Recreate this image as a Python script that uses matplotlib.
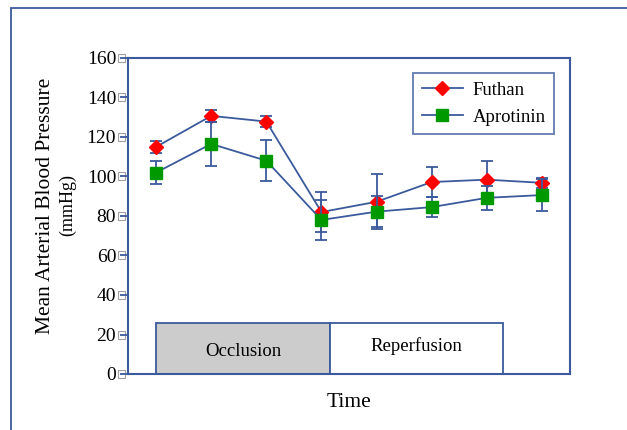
import matplotlib
matplotlib.use("Agg")
import matplotlib.pyplot as plt
import matplotlib.transforms as mtransforms
from matplotlib.patches import Rectangle

# Data
time_points   = [0, 1, 2, 3, 4, 5, 6, 7]
futhan_mean   = [115, 130.7, 127.8, 82, 87.2, 97.2, 98.4, 96.8]
futhan_err    = [3, 3, 2.6, 10, 14, 7.5, 9.5, 2.5]
aprot_mean    = [102, 116.5, 108, 78, 82.2, 84.5, 89.2, 90.6]
aprot_err     = [5.7, 11, 10.5, 10, 8, 5, 6, 8]
y_ticks       = [0, 20, 40, 60, 80, 100, 120, 140, 160]
phase_labels  = ["Occlusion", "Reperfusion"]
phase_edges   = [0, 3.15, 6.3]
phase_height  = 26

# Style
blue  = "#3a5a9c"
plt.rcParams["font.family"] = ["Liberation Serif", "DejaVu Serif"]

fig = plt.figure(figsize=(6.27, 4.30), dpi=100)
ax = fig.add_axes([128/627, 1 - 374/430, (570 - 128)/627, (374 - 58)/430])

# outer frame of the figure panel (only top and left edges are visible)
fig.add_artist(Rectangle((11/627, -0.1), 1.2, 0.1 + 1 - 8/430,
                         transform=fig.transFigure, fill=False,
                         edgecolor=blue, linewidth=1.3))

# phase boxes
for i, lab in enumerate(phase_labels):
    x0, x1 = phase_edges[i], phase_edges[i + 1]
    ax.add_patch(Rectangle((x0, 0), x1 - x0, phase_height,
                           facecolor="#cccccc" if i == 0 else "white",
                           edgecolor=blue, linewidth=1.3, zorder=1))
    ax.text((x0 + x1) / 2, phase_height * (0.43 if i == 0 else 0.55), lab,
            ha="center", va="center", fontsize=13.5, zorder=2)

ax.errorbar(time_points, futhan_mean, yerr=futhan_err, color=blue, lw=1.3,
            elinewidth=1.3, capsize=4, capthick=1.3, marker="D", ms=7,
            mfc="#ff0000", mec="#ff0000", label="Futhan", zorder=3)
ax.errorbar(time_points, aprot_mean, yerr=aprot_err, color=blue, lw=1.3,
            elinewidth=1.3, capsize=4, capthick=1.3, marker="s", ms=8,
            mfc="#009900", mec="#009900", label="Aprotinin", zorder=4)

ax.set_xlim(-0.51, 7.51)
ax.set_ylim(0, 160)
ax.set_yticks(y_ticks)
ax.set_yticklabels([str(v) for v in y_ticks], fontsize=14)
ax.tick_params(axis="y", direction="out", length=6, width=1.3, color=blue, pad=2.5)
ax.set_xticks([])
for sp in ax.spines.values():
    sp.set_color(blue)
    sp.set_linewidth(1.5)

# the little grey "missing glyph" boxes between tick numbers and tick marks
box_tr = mtransforms.blended_transform_factory(ax.transAxes, ax.transData)
bw, bh = 7 / 442, 8 / (316 / 160)
for v in y_ticks:
    ax.add_patch(Rectangle((-10 / 442, v - bh / 2), bw, bh, transform=box_tr,
                           facecolor="white", edgecolor="#a0a0a0", lw=0.8,
                           clip_on=False, zorder=0))

ax.set_xlabel("Time", fontsize=15.5, labelpad=14)
fig.text(0.072, 1 - 206/430, "Mean Arterial Blood Pressure", rotation=90,
         ha="center", va="center", fontsize=15.5)
fig.text(0.108, 1 - 205/430, "(mmHg)", rotation=90, ha="center", va="center",
         fontsize=13)

handles, labels = ax.get_legend_handles_labels()
handles = [h[0] for h in handles]
leg = ax.legend(handles, labels, loc="upper right",
                bbox_to_anchor=(1 - 16/442, 1 - 15/316), borderaxespad=0,
                fontsize=13.5, frameon=True, fancybox=False, handlelength=2.2,
                handletextpad=0.5, borderpad=0.45, labelspacing=0.55)
leg.get_frame().set_edgecolor(blue)
leg.get_frame().set_linewidth(1.3)

fig.savefig("out.png", dpi=100)
